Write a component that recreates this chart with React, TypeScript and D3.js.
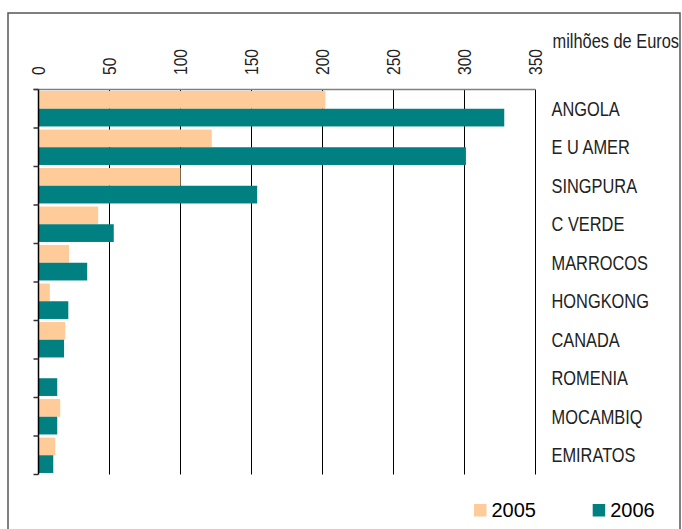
import React from "react";
import * as d3 from "d3";

const categories = ["ANGOLA", "E U AMER", "SINGPURA", "C VERDE", "MARROCOS", "HONGKONG", "CANADA", "ROMENIA", "MOCAMBIQ", "EMIRATOS"];
const values2005 = [202, 122, 100, 42, 21.5, 8, 18.8, 0, 15.3, 11.8];
const values2006 = [328, 301, 154, 53, 34.3, 21, 18, 13.2, 13.2, 10.4];
const seriesNames = ["2005", "2006"];
const colors = ["#FFCC99", "#008080"];
const xTicks = [0, 50, 100, 150, 200, 250, 300, 350];

export default function App() {
  const W = 682, H = 529;
  const left = 38.5, right = 535.5, top = 89.5, bottom = 474.5;
  const x = d3.scaleLinear().domain([0, 350]).range([left, right]);
  const y = d3.scaleBand<string>().domain(categories).range([top, bottom]).paddingInner(0.08).paddingOuter(0.04);
  const sub = d3.scaleBand<string>().domain(seriesNames).range([0, y.bandwidth()]);
  const series = [values2005, values2006];
  const step = (bottom - top) / categories.length;
  const font = "'Liberation Sans', Arial, sans-serif";
  const sx = 0.82;
  return (
    <svg width={W} height={H} style={{ position: "absolute", left: 0, top: 0 }} fontFamily={font}>
      <rect x={0} y={0} width={W} height={H} fill="#fff" />
      <rect x={8} y={13} width={672} height={530} fill="none" stroke="#555" strokeWidth={1.5} />
      {xTicks.map((t) => (
        <g key={t}>
          {t > 0 && <line x1={x(t)} x2={x(t)} y1={top} y2={bottom} stroke="#000" strokeWidth={1} />}
          <text transform={`translate(${x(t)},75) rotate(-90) scale(${sx},1)`} dy="0.35em" fontSize={19} fill="#222">{t}</text>
        </g>
      ))}
      {series.map((vals, si) =>
        categories.map((c, i) => (
          <rect key={si + "-" + c} x={x(0)} y={(y(c) as number) + (sub(seriesNames[si]) as number)}
            width={x(vals[i]) - x(0)} height={sub.bandwidth()} fill={colors[si]} />
        ))
      )}
      <line x1={left - 5} x2={right} y1={top} y2={top} stroke="#808080" strokeWidth={1.5} />
      <line x1={left} x2={left} y1={top} y2={bottom} stroke="#000" strokeWidth={1.5} />
      {d3.range(categories.length + 1).map((i) => (
        <line key={i} x1={left - 5} x2={left} y1={top + i * step} y2={top + i * step} stroke="#333" strokeWidth={1.5} />
      ))}
      {categories.map((c) => (
        <text key={c} transform={`translate(551.5,${(y(c) as number) + y.bandwidth() / 2}) scale(${sx},1)`} dy="0.36em" fontSize={20} fill="#222">{c}</text>
      ))}
      <text transform={`translate(552.5,48) scale(${sx},1)`} fontSize={20} fill="#222">milhões de Euros</text>
      {seriesNames.map((s, i) => (
        <g key={s} transform={`translate(${474 + i * 118.7},504)`}>
          <rect x={0} y={0} width={12.5} height={12.5} fill={colors[i]} />
          <text x={17.5} y={13} fontSize={20} fill="#000">{s}</text>
        </g>
      ))}
    </svg>
  );
}
